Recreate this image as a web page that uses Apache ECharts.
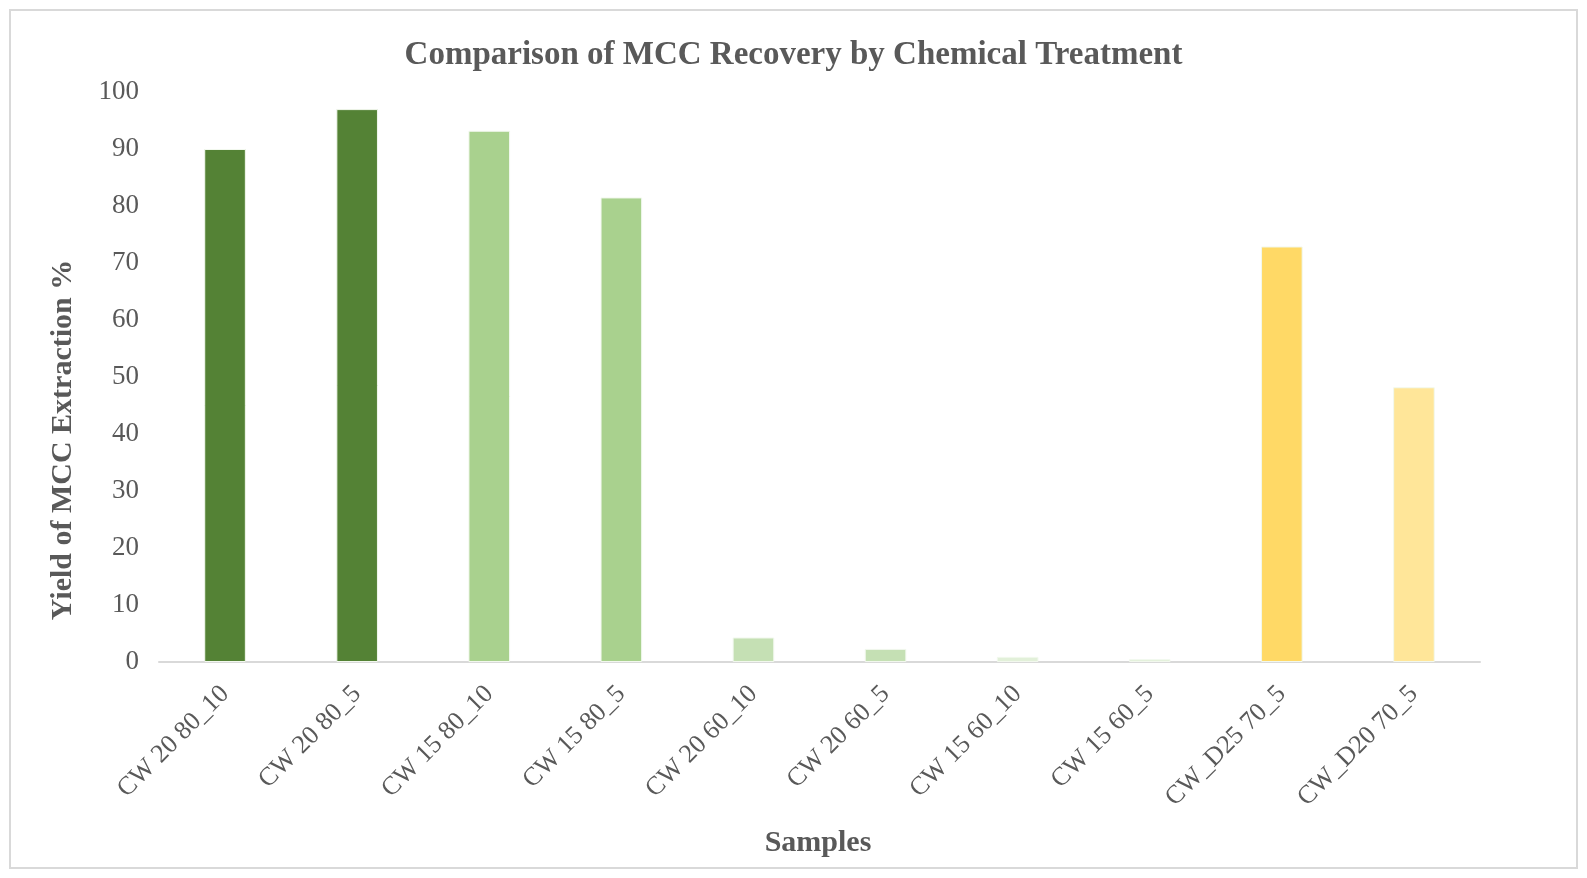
<!DOCTYPE html>
<html>
<head>
<meta charset="utf-8">
<script src="https://cdn.jsdelivr.net/npm/echarts@6/dist/echarts.min.js"></script>
<style>
  html, body { margin: 0; padding: 0; background: #fff; }
  #chart { width: 1587px; height: 878px; }
</style>
</head>
<body>
<div id="chart"></div>
<script>
// samples on the x axis
const samples = ['CW 20 80_10', 'CW 20 80_5', 'CW 15 80_10', 'CW 15 80_5', 'CW 20 60_10',
  'CW 20 60_5', 'CW 15 60_10', 'CW 15 60_5', 'CW_D25 70_5', 'CW_D20 70_5'];
// yield of MCC extraction (%)
const yieldValues = [90, 97, 93.2, 81.5, 4.3, 2.3, 0.9, 0.5, 72.9, 48.2];
// bar colours, one per sample
const barColors = ['#548235', '#548235', '#A9D18E', '#A9D18E', '#C5E0B4',
  '#C5E0B4', '#E2F0D9', '#E2F0D9', '#FFD966', '#FFE699'];

const chart = echarts.init(document.getElementById('chart'));
const serif = '"Liberation Serif", "Times New Roman", serif';
const grey = '#595959';

chart.setOption({
  backgroundColor: '#fff',
  textStyle: { fontFamily: serif },
  title: {
    text: 'Comparison of MCC Recovery by Chemical Treatment',
    left: 'center',
    top: 34,
    textStyle: { fontFamily: serif, fontSize: 33, fontWeight: 'bold', color: grey }
  },
  graphic: [
    {
      type: 'rect',
      shape: { x: 10, y: 10, width: 1567, height: 858 },
      style: { fill: 'none', stroke: '#d9d9d9', lineWidth: 2 },
      silent: true
    },
    {
      type: 'text',
      x: 63, y: 440,
      rotation: Math.PI / 2,
      style: {
        text: 'Yield of MCC Extraction %',
        font: 'bold 30px ' + serif,
        fill: grey,
        align: 'center',
        verticalAlign: 'middle'
      }
    },
    {
      type: 'text',
      x: 818, y: 843,
      style: {
        text: 'Samples',
        font: 'bold 30px ' + serif,
        fill: grey,
        align: 'center',
        verticalAlign: 'middle'
      }
    }
  ],
  grid: { left: 159, right: 107, top: 92, bottom: 216 },
  xAxis: {
    type: 'category',
    data: samples,
    axisLine: { lineStyle: { color: '#d9d9d9', width: 2 } },
    axisTick: { show: false },
    axisLabel: {
      rotate: 45,
      margin: 28,
      fontSize: 26,
      color: grey,
      fontFamily: serif
    }
  },
  yAxis: {
    type: 'value',
    min: 0,
    max: 100,
    interval: 10,
    splitLine: { show: false },
    axisLine: { show: false },
    axisTick: { show: false },
    axisLabel: { fontSize: 27, color: grey, margin: 20, fontFamily: serif }
  },
  series: [{
    type: 'bar',
    barWidth: '31.5%',
    data: yieldValues.map((v, i) => ({
      value: v,
      itemStyle: { color: barColors[i], borderColor: '#f2f8ee', borderWidth: 1 }
    }))
  }]
});
</script>
</body>
</html>
